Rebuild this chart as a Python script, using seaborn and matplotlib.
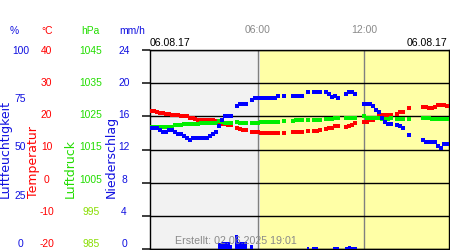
import matplotlib
matplotlib.use("Agg")
import matplotlib.pyplot as plt
import seaborn as sns
import numpy as np
import pandas as pd

# ---------------- data (10-minute slots since 00:00) ----------------
slots = (list(range(0, 28)) + list(range(29, 33)) + list(range(34, 44)) + [45]
         + list(range(48, 52)) + [53] + list(range(55, 58)) + list(range(59, 64))
         + list(range(66, 70)) + list(range(72, 82)) + list(range(83, 86)) + [87]
         + list(range(92, 101)))

temperature = [21.6, 21.6, 21.2, 20.9, 20.9, 20.6, 20.6, 20.4, 20.4, 20.4, 20.0, 20.0,
               20.0, 19.6, 19.6, 19.3, 19.0, 19.0, 19.0, 18.9, 18.8, 18.8, 18.5, 18.1,
               17.8, 17.6, 17.3, 17.3,
               16.4, 16.1, 15.8, 15.8,
               15.4, 15.2, 15.2, 14.9, 14.9, 14.9, 14.9, 14.9, 14.9, 14.9,
               14.9,
               15.2, 15.2, 15.2, 15.2,
               15.5,
               15.7, 15.7, 16.0,
               16.3, 16.6, 16.6, 17.0, 17.0,
               16.8, 17.2, 17.5, 17.9,
               18.2, 18.2, 18.8, 18.8, 19.6, 20.1, 20.5, 20.5, 20.5, 20.5,
               20.6, 21.4, 21.4,
               22.4,
               22.7, 22.7, 22.4, 22.4, 22.9, 23.5, 23.5, 23.5, 23.1]

pressure = [1021.9] * 8 + [1022.3] * 3 + [1022.7] * 6 + [1023.1] * 6 + [1023.5, 1023.3] + [1022.9] * 3 \
    + [1023.2, 1022.9, 1022.9, 1022.9] \
    + [1022.9] * 3 + [1023.2] * 7 \
    + [1023.5] \
    + [1023.5, 1023.9, 1024.0, 1024.0] \
    + [1024.0] \
    + [1024.0] * 3 \
    + [1024.2] * 3 + [1024.4] * 2 \
    + [1024.5, 1024.5, 1024.6, 1024.6] \
    + [1025.0] + [1024.6] * 5 + [1024.2, 1024.2, 1024.3, 1024.6] \
    + [1024.1] * 3 \
    + [1024.1] \
    + [1024.4] * 3 + [1024.2] * 6

humidity = [60.7, 60.7, 60.7, 59.8, 58.8, 58.8, 59.8, 59.8, 58.8, 57.8, 57.8, 56.8,
            55.6, 54.6, 55.6, 55.6, 55.6, 55.6, 55.6, 55.6, 56.8, 57.8, 58.8, 61.8,
            64.8, 66.8, 66.8, 66.8,
            71.9, 72.9, 72.9, 72.9,
            74.9, 75.9, 76.0, 76.0, 76.0, 76.0, 76.0, 76.0, 76.0, 76.9,
            76.9,
            76.9, 76.9, 76.9, 76.9,
            78.7,
            78.7, 78.7, 78.7,
            78.7, 77.7, 76.5, 77.0, 75.9,
            77.7, 78.7, 78.7, 77.7,
            72.7, 72.7, 72.7, 71.7, 69.8, 68.8, 65.8, 64.0, 62.7, 62.7,
            62.1, 61.8, 60.8,
            57.5,
            54.6, 53.6, 53.6, 53.6, 53.6, 51.8, 50.9, 52.6, 52.6]

rain_slots = [23, 24, 25, 26, 27, 29, 30, 31, 32, 34, 53, 55, 56, 62, 63, 66, 67, 68, 69]
rain = [0.7, 0.9, 0.9, 0.8, 0.5, 1.7, 0.8, 0.8, 0.8, 0.45, 0.25, 0.25, 0.25, 0.3, 0.3,
        0.25, 0.4, 0.25, 0.25]

hum_ticks = [0, 25, 50, 75, 100]
temp_ticks = [-20, -10, 0, 10, 20, 30, 40]
pres_ticks = [985, 995, 1005, 1015, 1025, 1035, 1045]
rain_ticks = [0, 4, 8, 12, 16, 20, 24]
time_ticks = [6, 12]
time_labels = ["06:00", "12:00"]
date_label = "06.08.17"
created = "Erstellt: 02.06.2025 19:01"
sunrise = 6.12

# ---------------- styling ----------------
sns.set_theme(style="white")
plt.rcParams["font.family"] = ["Liberation Sans", "DejaVu Sans"]

BLUE = "#0000ff"
RED = "#ff0000"
GREEN = "#00ee00"
TXT_BLUE = "#1010e0"
TXT_GREEN = "#22dd00"
TXT_GREEN2 = "#88dd00"
GRAY_TXT = "#8a8a8a"

W, H = 450, 250
fig = plt.figure(figsize=(W / 100, H / 100), dpi=100)


def rect(l, t, r, b):
    return [l / W, 1 - b / H, (r - l) / W, (b - t) / H]


df = pd.DataFrame({"hour": np.array(slots) / 6.0, "temperature": temperature,
                   "pressure": pressure, "humidity": humidity})
rdf = pd.DataFrame({"hour": np.array(rain_slots) / 6.0, "rain": rain})

xlim = (-0.06, 16.77)

ax = fig.add_axes(rect(150, 50, 449, 249))
ax.set_xlim(*xlim)
ax.set_ylim(-20, 40)
ax.axvspan(xlim[0], sunrise, color="#f2f2f2", zorder=0, lw=0)
ax.axvspan(sunrise, xlim[1], color="#ffffa6", zorder=0, lw=0)

sns.scatterplot(data=df, x="hour", y="temperature", ax=ax, marker="s", s=5,
                color=RED, linewidth=0, legend=False, zorder=3)

ax.set_yticks(temp_ticks)
ax.yaxis.grid(True, color="black", lw=1.0, zorder=1)
ax.set_xticks(time_ticks)
ax.set_xticklabels(time_labels)
ax.xaxis.grid(True, color="#808080", lw=1.0, zorder=1)
ax.set_axisbelow("line")
ax.xaxis.tick_top()
ax.tick_params(axis="x", length=0, pad=10.5, labelsize=7.5, labelcolor=GRAY_TXT)
ax.tick_params(axis="y", left=False, right=False, labelleft=False, labelright=False)
for s in ax.spines.values():
    s.set_color("black")
    s.set_linewidth(1.0)
ax.set_xlim(*xlim)
ax.set_ylim(-20, 40)

axP = ax.twinx()
sns.scatterplot(data=df, x="hour", y="pressure", ax=axP, marker="s", s=5,
                color=GREEN, linewidth=0, legend=False, zorder=3)
axP.set_ylim(985, 1045)

axH = ax.twinx()
sns.scatterplot(data=df, x="hour", y="humidity", ax=axH, marker="s", s=5,
                color=BLUE, linewidth=0, legend=False, zorder=3)
axH.set_ylim(0, 100)

axR = ax.twinx()
axR.bar(rdf["hour"], rdf["rain"], width=1 / 6, color=BLUE, linewidth=0, zorder=3)
axR.set_ylim(0, 24)

for a in (ax, axP, axH, axR):
    a.set_xlim(*xlim)
    a.set_xlabel("")
    a.set_ylabel("")
for a in (axP, axH, axR):
    a.set_yticks([])
    for s in a.spines.values():
        s.set_visible(False)

# ---------------- left tick label columns ----------------
columns = [
    (hum_ticks, (0, 100), 129.5, TXT_BLUE),
    (temp_ticks, (-20, 40), 103.5, RED),
    (pres_ticks, (985, 1045), 59.0, TXT_GREEN),
    (rain_ticks, (0, 24), 26.0, TXT_BLUE),
]
for i, (ticks, lim, pad_px, col) in enumerate(columns):
    la = fig.add_axes(rect(150, 50, 449, 243), label=f"lab{i}", zorder=-5)
    la.set_ylim(*lim)
    la.set_yticks(ticks)
    la.set_yticklabels([str(t) for t in ticks])
    la.patch.set_visible(False)
    for s in la.spines.values():
        s.set_visible(False)
    la.xaxis.set_visible(False)
    la.tick_params(axis="y", left=True, length=0, pad=pad_px * 0.72,
                   labelsize=7.4, labelcolor=col, labelleft=True)
    for lbl in la.get_yticklabels():
        lbl.set_ha("center")
    if ticks is pres_ticks:
        for lbl, t in zip(la.get_yticklabels(), ticks):
            if t < 1000:
                lbl.set_color(TXT_GREEN2)

# units row
units = [("%", 14, TXT_BLUE), ("°C", 46.7, RED), ("hPa", 90.3, TXT_GREEN), ("mm/h", 132.5, TXT_BLUE)]
for txt, x, col in units:
    fig.text(x / W, 1 - 30.5 / H, txt, ha="center", va="center", fontsize=7.4, color=col)

# rotated axis titles
titles = [("Luftfeuchtigkeit", 5.0, TXT_BLUE), ("Temperatur", 34.0, RED),
          ("Luftdruck", 70.0, TXT_GREEN), ("Niederschlag", 111.5, TXT_BLUE)]
for txt, x, col in titles:
    fig.text(x / W, 1 - 198 / H, txt, rotation=90, ha="center", va="bottom",
             fontsize=9.0, color=col, family=["DejaVu Sans"])

# dates and footer
fig.text(150 / W, 1 - 43.3 / H, date_label, ha="left", va="center", fontsize=7.6, color="black")
fig.text(447 / W, 1 - 43.3 / H, date_label, ha="right", va="center", fontsize=7.6, color="black")
fig.text(175 / W, 1 - 241 / H, created, ha="left", va="center", fontsize=7.7,
         color=GRAY_TXT, zorder=10)

fig.savefig("out.png", dpi=100)
